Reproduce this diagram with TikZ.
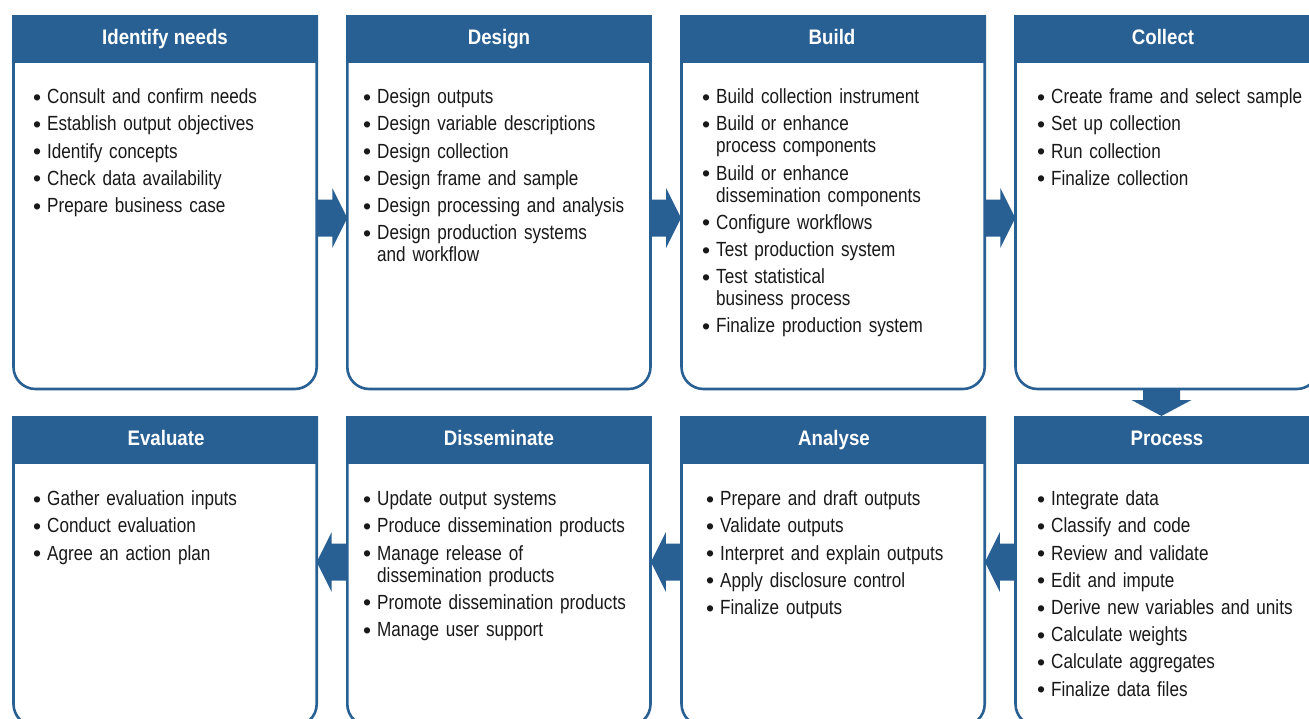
\documentclass[tikz,border=0pt]{standalone}
\usepackage{fontspec}
\setmainfont{Liberation Sans}[FakeStretch=0.835]
\newfontfamily\headfont{Liberation Sans}[FakeStretch=0.89]
\newfontfamily\bulletfont{Liberation Sans}
\usetikzlibrary{calc}
\definecolor{gblue}{RGB}{41,96,148}
\newlength\gindent
\setlength\gindent{12pt}
\newcommand\gitem[1]{\ifvmode\else\par\vspace{5.2pt}\fi
  \noindent\hangindent=\gindent\hangafter=1
  \makebox[\gindent][l]{\hspace{-2pt}\raisebox{-1.6pt}{\bulletfont\fontsize{23}{22}\selectfont\textbullet}}\rule{0pt}{16pt}#1}
\tikzset{
  boxline/.style={draw=gblue, line width=2.6pt, fill=white},
  headbar/.style={fill=gblue, draw=gblue, line width=2.6pt},
  headtext/.style={text=white, font=\headfont\bfseries\fontsize{21}{24}\selectfont, anchor=base, inner sep=0pt},
  bodytext/.style={anchor=north west, inner sep=0pt, text width=300pt,
     font=\fontsize{20.5}{22}\selectfont, text=black!90},
  rarrow/.pic={\fill[gblue] (0,18.5) -- (15.6,18.5) -- (15.6,30) -- (30.6,0) -- (15.6,-30) -- (15.6,-18.5) -- (0,-18.5) -- cycle;},
  darrow/.pic={\fill[gblue] (-18.5,0) -- (-18.5,-11) -- (-30,-11) -- (0,-27) -- (30,-11) -- (18.5,-11) -- (18.5,0) -- cycle;}
}
% #1 name, #2 x0, #3 x1, #4 ytop, #5 ybot, #6 title x, #7 title
\newcommand\stagebox[7]{%
  \draw[boxline] (#2,-#4) -- (#2,{-#5+22}) arc[start angle=180,end angle=270,radius=22pt]
     -- ({#3-22},-#5) arc[start angle=270,end angle=360,radius=22pt] -- (#3,-#4) -- cycle;
  \path[headbar] (#2,-#4) rectangle (#3,{-#4-45.5});
  \node[headtext] (#1) at (#6,{-#4-28}) {#7};
  \coordinate (#1-w) at (#2,{-(#4+#5)/2});
  \coordinate (#1-e) at (#3,{-(#4+#5)/2});
  \coordinate (#1-s) at ({(#2+#3)/2},-#5);
  \coordinate (#1-n) at ({(#2+#3)/2},-#4);
}
\begin{document}
\begin{tikzpicture}[x=1pt,y=1pt]
\path[use as bounding box, fill=white] (0,0) rectangle (1309,-718);
\clip (0,0) rectangle (1309,-718);

% top row
\stagebox{idn}{13.5}{316.7}{16.5}{389}{165}{Identify needs}
\stagebox{des}{347.3}{650.5}{16.5}{389}{499}{Design}
\stagebox{bld}{681.5}{984.7}{16.5}{389}{832}{Build}
\stagebox{col}{1015.5}{1318.7}{16.5}{389}{1163}{Collect}
% bottom row
\stagebox{eva}{13.5}{316.7}{417.5}{726}{166}{Evaluate}
\stagebox{dis}{347.3}{650.5}{417.5}{726}{499}{Disseminate}
\stagebox{ana}{681.5}{984.7}{417.5}{726}{834}{Analyse}
\stagebox{pro}{1015.5}{1318.7}{417.5}{726}{1167}{Process}

% body texts
\node[bodytext] (idn-t) at (35,-76.3) {%
  \gitem{Consult and confirm needs}\gitem{Establish output objectives}\gitem{Identify concepts}%
  \gitem{Check data availability}\gitem{Prepare business case}\par};
\node[bodytext] (des-t) at (365,-76.3) {%
  \gitem{Design outputs}\gitem{Design variable descriptions}\gitem{Design collection}%
  \gitem{Design frame and sample}\gitem{Design processing and analysis}%
  \gitem{Design production systems\newline and workflow}\par};
\node[bodytext] (bld-t) at (704,-76.3) {%
  \gitem{Build collection instrument}\gitem{Build or enhance\newline process components}%
  \gitem{Build or enhance\newline dissemination components}\gitem{Configure workflows}%
  \gitem{Test production system}\gitem{Test statistical\newline business process}%
  \gitem{Finalize production system}\par};
\node[bodytext] (col-t) at (1039,-76.3) {%
  \gitem{Create frame and select sample}\gitem{Set up collection}\gitem{Run collection}%
  \gitem{Finalize collection}\par};
\node[bodytext] (eva-t) at (35,-478.3) {%
  \gitem{Gather evaluation inputs}\gitem{Conduct evaluation}\gitem{Agree an action plan}\par};
\node[bodytext] (dis-t) at (365,-478.3) {%
  \gitem{Update output systems}\gitem{Produce dissemination products}%
  \gitem{Manage release of\newline dissemination products}\gitem{Promote dissemination products}%
  \gitem{Manage user support}\par};
\node[bodytext] (ana-t) at (708,-478.3) {%
  \gitem{Prepare and draft outputs}\gitem{Validate outputs}\gitem{Interpret and explain outputs}%
  \gitem{Apply disclosure control}\gitem{Finalize outputs}\par};
\node[bodytext] (pro-t) at (1039,-478.3) {%
  \gitem{Integrate data}\gitem{Classify and code}\gitem{Review and validate}%
  \gitem{Edit and impute}\gitem{Derive new variables and units}\gitem{Calculate weights}%
  \gitem{Calculate aggregates}\gitem{Finalize data files}\par};

% connectors (block arrows)
\coordinate (t1) at (idn-e |- 0,-218);
\coordinate (t2) at (des-e |- 0,-218);
\coordinate (t3) at (bld-e |- 0,-218);
\pic at (t1) {rarrow};
\pic at (t2) {rarrow};
\pic at (t3) {rarrow};
\coordinate (t4) at (1161.5,0 |- col-s);
\pic at (t4) {darrow};
\coordinate (t5) at (pro-w |- 0,-562);
\coordinate (t6) at (ana-w |- 0,-562);
\coordinate (t7) at (dis-w |- 0,-562);
\pic[rotate=180] at (t5) {rarrow};
\pic[rotate=180] at (t6) {rarrow};
\pic[rotate=180] at (t7) {rarrow};
\end{tikzpicture}
\end{document}
